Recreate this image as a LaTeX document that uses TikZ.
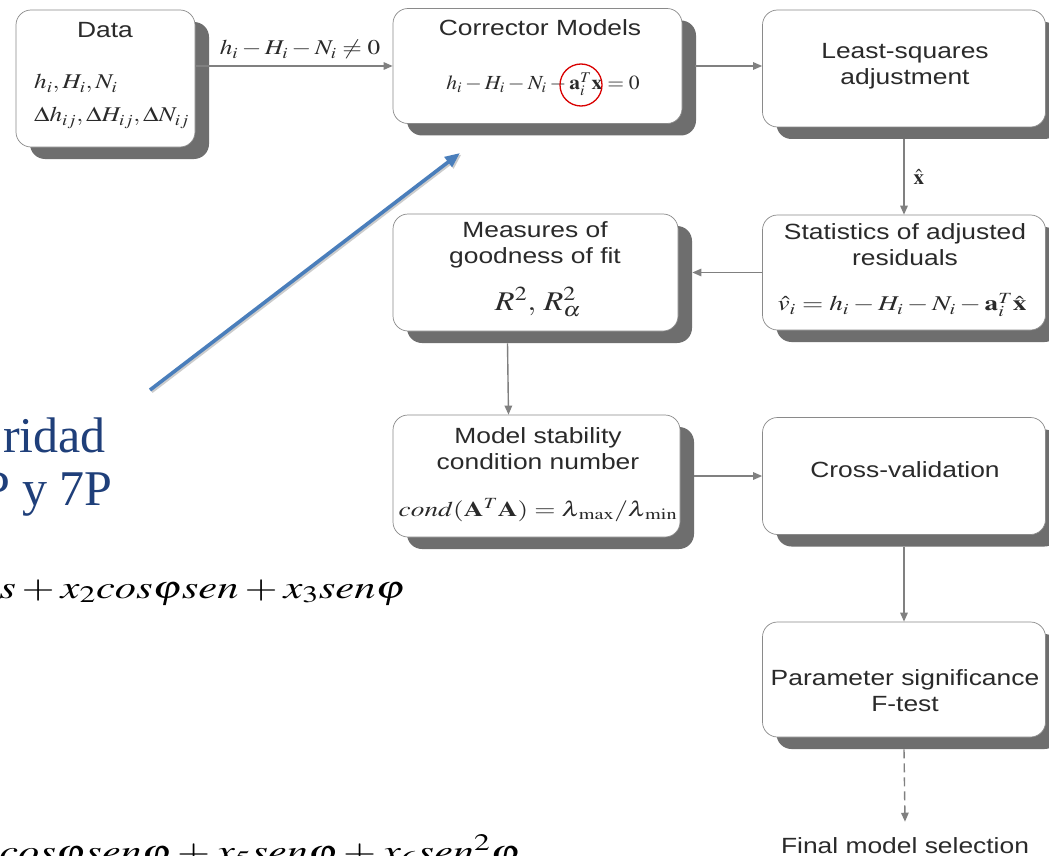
\documentclass[tikz,border=0pt]{standalone}
\usepackage{mathptmx}
\usepackage{graphicx}
\usepackage[no-math]{fontspec}
\setmainfont{Liberation Serif}
\newfontfamily\boxfont[FakeStretch=1.2]{Liberation Sans}
\newfontfamily\bluefont{Liberation Serif}
\usetikzlibrary{shadows,arrows.meta,calc}
\definecolor{boxline}{HTML}{8A8A8A}
\definecolor{shadowgray}{HTML}{6E6E6E}
\definecolor{arrowgray}{HTML}{808080}
\definecolor{bluearrow}{HTML}{4A7EBB}
\definecolor{bluetext}{HTML}{1F3F7A}
\definecolor{boxtext}{HTML}{2A2A2A}
\newcommand{\wide}[1]{\scalebox{1.2}[1]{#1}}
\newcommand{\slightwide}[1]{\scalebox{1.08}[1]{#1}}
\newcommand{\wider}[1]{\scalebox{1.3}[1]{#1}}
\newcommand{\widest}[1]{\scalebox{1.33}[1]{#1}}
\begin{document}
\begin{tikzpicture}[x=1pt,y=-1pt,
  box/.style={draw=boxline, line width=0.7pt, fill=white, rounded corners=15pt, inner sep=0pt,
    drop shadow={shadow xshift=14pt, shadow yshift=-12pt, opacity=1, fill=shadowgray, draw=none}},
  ttl/.style={font=\boxfont\fontsize{22}{26}\selectfont, align=center, inner sep=0pt, text=boxtext},
  mth/.style={font=\fontsize{21}{25}\selectfont, inner sep=0pt, text=boxtext},
  arr/.style={draw=arrowgray, line width=1.4pt, -{Triangle[length=9pt,width=7.5pt]}},
  side/.style={font=\fontsize{32}{38}\selectfont, anchor=base east, inner sep=0pt, text=black},
]
\clip (0,0) rectangle (1049,856);
\fill[white] (0,0) rectangle (1049,856);

% Data
\node[box, minimum width=179pt, minimum height=137pt] (data) at (105.5,78.5) {};
\node[ttl] (datat) at (105,30) {Data};
\node[mth, anchor=base west] (datam1) at (34,89) {\wide{$h_i, H_i, N_i$}};
\node[mth, anchor=base west] (datam2) at (34,122) {\wide{$\Delta h_{ij}, \Delta H_{ij}, \Delta N_{ij}$}};

% Corrector
\node[box, minimum width=289pt, minimum height=115pt] (corr) at (537.5,66) {};
\node[ttl] (corrt) at (540,28) {Corrector Models};
\node[mth, font=\fontsize{20}{24}\selectfont, anchor=base] (corrm) at (543,90) {\slightwide{$h_i - H_i - N_i - \mathbf{a}_i^T\mathbf{x} = 0$}};
\node[circle, draw=red!85!black, line width=1.3pt, minimum size=42pt, inner sep=0pt] (circ) at (581,85) {};

\draw[arr] (data.east |- corr.west) -- (corr.west);
\node[mth, anchor=base] (neq) at (300,55) {\wide{$h_i - H_i - N_i \neq 0$}};

% Least squares
\node[box, minimum width=283pt, minimum height=117pt] (ls) at (904,68.5) {};
\node[ttl] (lst) at (905,66) {Least-squares\\adjustment};
\draw[arr] ([xshift=13pt]corr.east) -- (ls.west |- corr.east);

% Statistics
\node[box, minimum width=283pt, minimum height=115pt] (stats) at (904,272.5) {};
\draw[arr] ([yshift=-12pt]ls.south) -- (stats.north) node[midway, right=9pt, mth] (xhat) {$\hat{\mathbf x}$};
\node[ttl] (statst) at (905,245) {Statistics of adjusted\\residuals};
\node[mth] (statsm) at (902,305) {\wider{$\hat v_i = h_i - H_i - N_i - \mathbf a_i^T\hat{\mathbf x}$}};

% Measures
\node[box, minimum width=285pt, minimum height=117pt] (meas) at (535.5,272.5) {};
\draw[arr] (stats.west) -- ([xshift=14pt]meas.east);
\node[ttl] (meast) at (535,245) {Measures of\\goodness of fit};
\node[font=\fontsize{27}{30}\selectfont, inner sep=0pt, text=boxtext] (measm) at (538,302) {\wide{$R^2,\, R_\alpha^2$}};

% Model stability
\node[box, minimum width=287pt, minimum height=122pt] (model) at (536.5,476) {};
\draw[arr] ([xshift=-28pt,yshift=-12pt]meas.south) -- ([xshift=-28pt]model.north);
\node[ttl] (modelt) at (538,449) {Model stability\\condition number};
\node[mth] (modelm) at (538,510) {\wider{$cond(\mathbf A^T\mathbf A) = \lambda_{\,\mathrm{max}}/\lambda_{\,\mathrm{min}}$}};

% Cross validation
\node[box, minimum width=283pt, minimum height=117pt] (cross) at (904,476) {};
\draw[arr] ([xshift=14pt]model.east) -- (cross.west);
\node[ttl] (crosst) at (905,470) {Cross-validation};

% Parameter significance
\node[box, minimum width=283pt, minimum height=115pt] (param) at (904,679.5) {};
\draw[arr] ([yshift=-12pt]cross.south) -- (param.north);
\node[ttl] (paramt) at (905,691) {Parameter significance\\F-test};

% Final
\node[ttl] (final) at (905,846) {Final model selection};
\draw[arr, dash pattern=on 9pt off 5pt] ([yshift=-12pt]param.south) -- ([yshift=16pt]final.north);

% Blue overlay
\node[font=\bluefont\fontsize{50}{60}\selectfont, text=bluetext, anchor=base east, inner sep=0pt] (bt1) at (106,452) {ridad};
\node[font=\bluefont\fontsize{50}{60}\selectfont, text=bluetext, anchor=base east, inner sep=0pt] (bt2) at (113,505) {P y 7P};
\coordinate (bstart) at (150,390);
\coordinate (bend) at (460,153);
\draw[black!20, line width=3.6pt, -{Triangle[length=15pt,width=12pt]}] ([shift={(1.5pt,-1.5pt)}]bstart) -- ([shift={(1.5pt,-1.5pt)}]bend);
\draw[bluearrow, line width=3.6pt, -{Triangle[length=15pt,width=12pt]}] (bstart) -- (bend);

% Formula fragments
\node[side] (f1) at (405,598) {\widest{$s + x_2 cos\varphi sen + x_3 sen\varphi$}};
\node[side] (f2) at (520,862) {\widest{$s + x_4 cos\varphi sen\varphi + x_5 sen\varphi + x_6 sen^2\varphi$}};
\end{tikzpicture}
\end{document}
